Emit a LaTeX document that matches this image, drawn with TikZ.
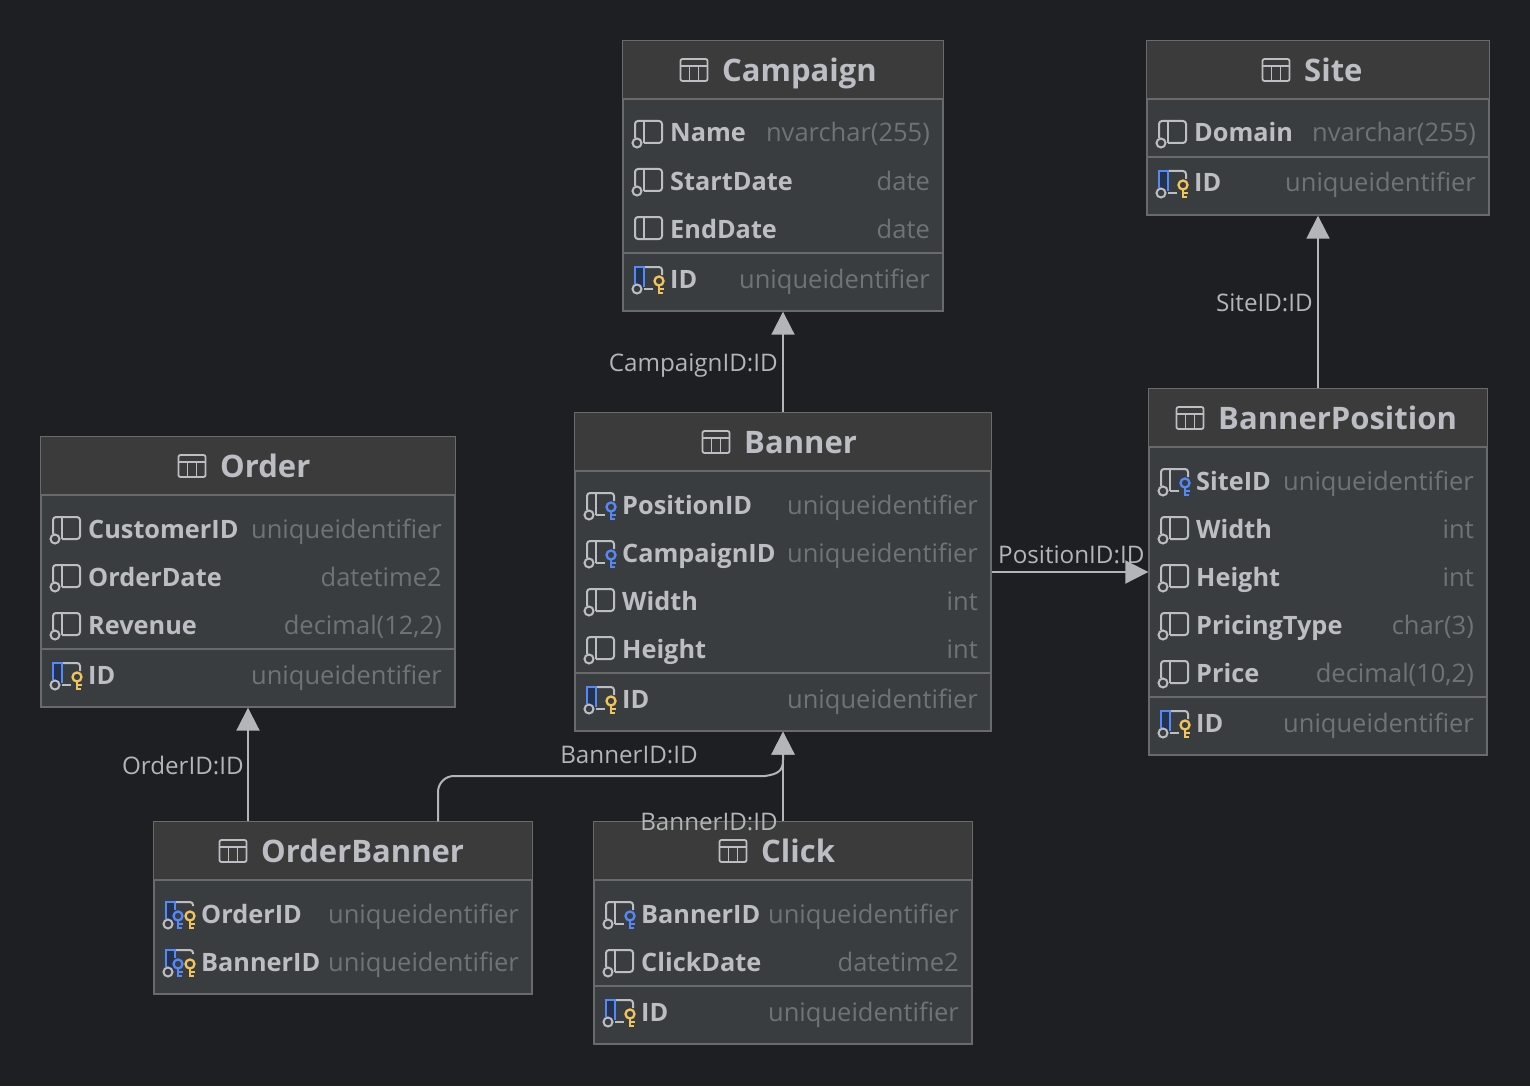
\documentclass[tikz,border=0pt]{standalone}
\usepackage{fontspec}
\setmainfont{Open Sans}
\usepackage{tikz}
\usetikzlibrary{arrows.meta}

\definecolor{canvas}{HTML}{1E1F22}
\definecolor{headfill}{HTML}{3C3B3B}
\definecolor{bodyfill}{HTML}{3A3D40}
\definecolor{edgegray}{HTML}{696A6C}
\definecolor{namegray}{HTML}{BCBEC4}
\definecolor{typegray}{HTML}{6F7277}
\definecolor{linkgray}{HTML}{B4B5B8}
\definecolor{keyblue}{HTML}{548AF7}
\definecolor{keyyellow}{HTML}{F2C55C}
\definecolor{pkshade}{HTML}{25324D}

\tikzset{
  tablebox/.style={draw=edgegray, fill=bodyfill, line width=1.4pt, inner sep=0pt, minimum width=#1},
  headtext/.style={text=namegray, font=\fontsize{31}{31}\selectfont\bfseries, anchor=base west, inner sep=0pt},
  fieldtext/.style={text=namegray, font=\fontsize{25.3}{26}\selectfont\bfseries, anchor=base west, inner sep=0pt},
  typetext/.style={text=typegray, font=\fontsize{25.5}{26}\selectfont, anchor=base east, inner sep=0pt},
  linktext/.style={text=linkgray, font=\fontsize{24.2}{25}\selectfont, inner sep=0pt},
  link/.style={draw=linkgray, line width=2pt, -{Triangle[length=23pt, width=23pt]}},
  iconline/.style={draw=namegray, line width=2pt},
  plainicon/.pic={
    \draw[iconline, rounded corners=3pt] (0,-12) rectangle (27,10);
    \draw[iconline] (9,-12) -- (9,10);
  },
  nullicon/.pic={
    \draw[iconline, rounded corners=3pt] (9,10) -- (27,10) -- (27,-12) -- (0,-12) -- (0,5);
    \draw[iconline] (9,-12) -- (9,10);
    \draw[iconline] (2,10) circle (4.5);
  },
  fkicon/.pic={
    \draw[iconline, rounded corners=3pt] (9,10) -- (18,10);
    \draw[iconline, rounded corners=3pt] (27,-4) -- (27,-12) -- (0,-12) -- (0,5);
    \draw[iconline] (9,-12) -- (9,10);
    \draw[iconline] (2,10) circle (4.5);
    \pic[draw=keyblue] at (24,2) {keyshape};
  },
  pkicon/.pic={
    \fill[pkshade] (0,-12) rectangle (9,8);
    \draw[iconline] (9,10) -- (18,10);
    \draw[iconline, rounded corners=3pt] (27,-4) -- (27,-12) -- (9,-12);
    \draw[draw=keyblue, line width=2pt] (0,5) -- (0,-12) -- (9,-12) -- (9,8);
    \draw[iconline] (2,10) circle (4.5);
    \pic[draw=keyyellow] at (24,2) {keyshape};
  },
  pkfkicon/.pic={
    \fill[pkshade] (0,-12) rectangle (9,8);
    \draw[iconline, rounded corners=3pt] (27,-8) -- (27,-12) -- (9,-12);
    \draw[draw=keyblue, line width=2pt] (0,5) -- (0,-12) -- (9,-12) -- (9,-4);
    \draw[iconline] (2,10) circle (4.5);
    \pic[draw=keyblue] at (12,2) {keyshape};
    \pic[draw=keyyellow] at (24,2) {keyshape};
  },
  keyshape/.pic={
    \draw[line width=2.3pt, fill=bodyfill, pic actions] (0,0) circle (4.5);
    \draw[line width=2.3pt, pic actions] (0,4) -- (0,13) (0,8) -- (5,8) (0,12) -- (4,12);
  },
  tableicon/.pic={
    \draw[draw=namegray, line width=1.8pt, rounded corners=2pt] (0,-11) rectangle (27,11);
    \draw[draw=namegray, line width=1.8pt] (0,-4) -- (27,-4) (9,-4) -- (9,11) (18,-4) -- (18,11);
  },
}

% one table: id, left, top, right, bottom, y of header line, title icon x, title
\newcommand{\tablehead}[8]{
  \node[tablebox={#4pt-#2pt}, minimum height=#5pt-#3pt] (#1) at ({(#2+#4)/2},{(#3+#5)/2}) {};
  \fill[headfill] (#2,#3) rectangle (#4,#6);
  \draw[edgegray, line width=1.4pt] (#1.north west) rectangle (#1.south east);
  \draw[edgegray, line width=1.6pt] (#2,#6) -- (#4,#6);
  \pic at ({#7+.5},{#3+29}) {tableicon};
  \node[headtext] (#1-title) at ({#7+42},{#3+40.5}) {#8};
}
% rows of a table: id, icon x, name x, type x, list of icon/y/name/type
\newcommand{\tablerows}[5]{
  \foreach \icn/\rowy/\fname/\ftype in {#5} {
    \pic at (#2,\rowy) {\icn};
    \node[fieldtext] (#1-\fname) at (#3,{\rowy+9}) {\fname};
    \node[typetext] (#1-\fname-type) at (#4,{\rowy+9}) {\ftype};
  }
}

\begin{document}
\begin{tikzpicture}[x=1pt, y=-1pt]
  \fill[canvas] (0,0) rectangle (1530,1086);
  \useasboundingbox (0,0) rectangle (1530,1086);

  % Tablas
  \tablehead{campaign}{623}{41}{943}{311}{99}{680}{Campaign}
  \tablerows{campaign}{635}{670}{930}{nullicon/133/Name/nvarchar(255), nullicon/181/StartDate/date, plainicon/229/EndDate/date, pkicon/279/ID/uniqueidentifier}
  \draw[edgegray, line width=1.6pt] (623,253) -- (943,253);

  \tablehead{site}{1147}{41}{1489}{215}{99}{1262}{Site}
  \tablerows{site}{1159}{1194}{1476}{nullicon/133/Domain/nvarchar(255), pkicon/183/ID/uniqueidentifier}
  \draw[edgegray, line width=1.6pt] (1147,157) -- (1489,157);

  \tablehead{order}{41}{437}{455}{707}{495}{178}{Order}
  \tablerows{order}{53}{88}{442}{nullicon/529/CustomerID/uniqueidentifier, nullicon/577/OrderDate/datetime2, nullicon/625/Revenue/{decimal(12,2)}, pkicon/675/ID/uniqueidentifier}
  \draw[edgegray, line width=1.6pt] (41,649) -- (455,649);

  \tablehead{banner}{575}{413}{991}{731}{471}{702}{Banner}
  \tablerows{banner}{587}{622}{978}{fkicon/505/PositionID/uniqueidentifier, fkicon/553/CampaignID/uniqueidentifier, nullicon/601/Width/int, nullicon/649/Height/int, pkicon/699/ID/uniqueidentifier}
  \draw[edgegray, line width=1.6pt] (575,673) -- (991,673);

  \tablehead{bannerposition}{1149}{389}{1487}{755}{447}{1176}{BannerPosition}
  \tablerows{bannerposition}{1161}{1196}{1474}{fkicon/481/SiteID/uniqueidentifier, nullicon/529/Width/int, nullicon/577/Height/int, nullicon/625/PricingType/char(3), nullicon/673/Price/{decimal(10,2)}, pkicon/723/ID/uniqueidentifier}
  \draw[edgegray, line width=1.6pt] (1149,697) -- (1487,697);

  \tablehead{orderbanner}{154}{822}{532}{994}{880}{219}{OrderBanner}
  \tablerows{orderbanner}{166}{201}{519}{pkfkicon/914/OrderID/uniqueidentifier, pkfkicon/962/BannerID/uniqueidentifier}

  \tablehead{click}{594}{822}{972}{1044}{880}{719}{Click}
  \tablerows{click}{606}{641}{959}{fkicon/914/BannerID/uniqueidentifier, nullicon/962/ClickDate/datetime2, pkicon/1012/ID/uniqueidentifier}
  \draw[edgegray, line width=1.6pt] (594,986) -- (972,986);

  % Relaciones
  \coordinate (turn) at (438,776);
  \coordinate (bend) at (765,776);
  \coordinate (rise) at (783,760);
  \draw[link] (banner) -- (campaign);
  \draw[link] (bannerposition) -- (site);
  \draw[link] (banner) -- (bannerposition);
  \draw[link] (orderbanner.north -| order.south) -- (order.south);
  \draw[link] (click) -- (banner);
  \draw[link] [rounded corners=16pt] (orderbanner.north -| turn) -- (turn) [sharp corners] -- (bend) .. controls (778,774) and (783,771) .. (rise) -- (banner.south);

  % Etiquetas
  \node[linktext, anchor=base east] (campaignlabel) at (778,371) {CampaignID:ID};
  \node[linktext, anchor=base east] (sitelabel) at (1313,311) {SiteID:ID};
  \node[linktext, anchor=base west] (positionlabel) at (998,563) {PositionID:ID};
  \node[linktext, anchor=base east] (orderlabel) at (244,774) {OrderID:ID};
  \node[linktext, anchor=base east] (bannerlabel) at (698,763) {BannerID:ID};
  \node[linktext, anchor=base east] (clicklabel) at (778,830) {BannerID:ID};
\end{tikzpicture}
\end{document}
